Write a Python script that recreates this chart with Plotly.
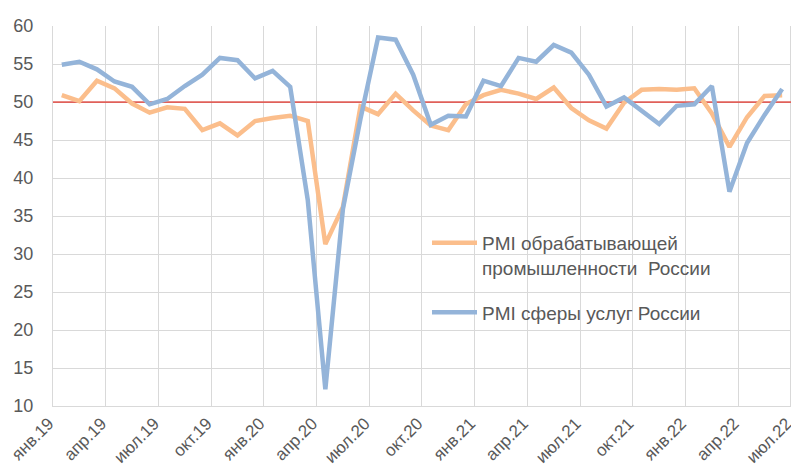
import plotly.graph_objects as go

categories = [
    "янв.19", "фев.19", "мар.19", "апр.19", "май.19", "июн.19",
    "июл.19", "авг.19", "сен.19", "окт.19", "ноя.19", "дек.19",
    "янв.20", "фев.20", "мар.20", "апр.20", "май.20", "июн.20",
    "июл.20", "авг.20", "сен.20", "окт.20", "ноя.20", "дек.20",
    "янв.21", "фев.21", "мар.21", "апр.21", "май.21", "июн.21",
    "июл.21", "авг.21", "сен.21", "окт.21", "ноя.21", "дек.21",
    "янв.22", "фев.22", "мар.22", "апр.22", "май.22", "июн.22",
    "июл.22",
]

manufacturing = [
    50.9, 50.1, 52.8, 51.8, 49.8, 48.6, 49.3, 49.1, 46.3, 47.2, 45.6, 47.5,
    47.9, 48.2, 47.5, 31.3, 36.2, 49.4, 48.4, 51.1, 48.9, 46.9, 46.3, 49.7,
    50.9, 51.6, 51.1, 50.4, 51.9, 49.2, 47.6, 46.5, 49.9, 51.6, 51.7, 51.6,
    51.8, 48.5, 44.1, 48.0, 50.8, 50.9,
]

services = [
    54.9, 55.3, 54.3, 52.7, 52.0, 49.7, 50.4, 52.1, 53.6, 55.8, 55.5, 53.1,
    54.1, 52.0, 37.1, 12.2, 35.9, 47.8, 58.5, 58.2, 53.6, 47.0, 48.2, 48.1,
    52.8, 52.1, 55.8, 55.3, 57.5, 56.5, 53.6, 49.4, 50.6, 48.8, 47.1, 49.5,
    49.7, 52.1, 38.2, 44.6, 48.3, 51.7,
]

threshold = 50

tick_labels = categories[::3]

name_manuf = "PMI обрабатывающей<br>промышленности  России"
name_serv = "PMI сферы услуг России"

W, H = 799, 473
ML, MR, MT, MB = 45, 0, 18, 75
PW, PH = W - ML - MR, H - MT - MB
CAT_W = 17.57
X_MAX = -0.5 + PW / CAT_W


def px_x(x):
    return (x - ML) / PW


def px_y(y):
    return (H - MB - y) / PH


fig = go.Figure()
fig.add_trace(go.Scatter(
    x=categories[:len(manufacturing)], y=manufacturing, mode="lines",
    name=name_manuf, line=dict(color="#FBBE8C", width=4.5),
    legendgroup="a",
))
fig.add_trace(go.Scatter(
    x=categories[:len(services)], y=services, mode="lines",
    name=name_serv, line=dict(color="#94B4D9", width=4.5),
    legendgroup="b",
))

fig.add_shape(type="line", xref="x", yref="y", x0=-0.5, x1=X_MAX,
              y0=threshold, y1=threshold,
              line=dict(color="#E0605A", width=1.75), layer="between")
fig.add_shape(type="rect", xref="paper", yref="paper",
              x0=px_x(413), x1=px_x(742), y0=px_y(350), y1=px_y(219),
              fillcolor="white", line=dict(width=0), layer="between")

font = "Liberation Sans, Arial, sans-serif"
fig.update_layout(
    width=W, height=H,
    margin=dict(l=ML, r=MR, t=MT, b=MB, pad=0),
    paper_bgcolor="white", plot_bgcolor="white",
    font=dict(family=font, size=18, color="#595959"),
    xaxis=dict(
        type="category",
        categoryorder="array", categoryarray=categories,
        range=[-0.5, X_MAX],
        tickmode="array", tickvals=tick_labels, ticktext=tick_labels,
        tickson="boundaries",
        tickangle=-45,
        ticks="outside", ticklen=21, tickcolor="rgba(0,0,0,0)",
        ticklabelshift=-13,
        showgrid=True, gridcolor="#D9D9D9", gridwidth=1,
        showline=True, linecolor="#D9D9D9", linewidth=1,
        zeroline=False,
        tickfont=dict(size=17, color="#595959"),
    ),
    yaxis=dict(
        range=[10, 60], dtick=5, tick0=10,
        showgrid=True, gridcolor="#D9D9D9", gridwidth=1,
        showline=True, linecolor="#D9D9D9", linewidth=1,
        zeroline=False,
        ticks="outside", ticklen=15, tickcolor="rgba(0,0,0,0)",
        tickfont=dict(size=18, color="#595959"),
    ),
    showlegend=True,
    legend=dict(
        x=px_x(419), y=px_y(216), xanchor="left", yanchor="top",
        bgcolor="rgba(0,0,0,0)", borderwidth=0,
        font=dict(size=19, color="#595959"),
        traceorder="grouped", tracegroupgap=17,
        valign="top", itemwidth=45,
    ),
)

fig.write_html("out.html")
